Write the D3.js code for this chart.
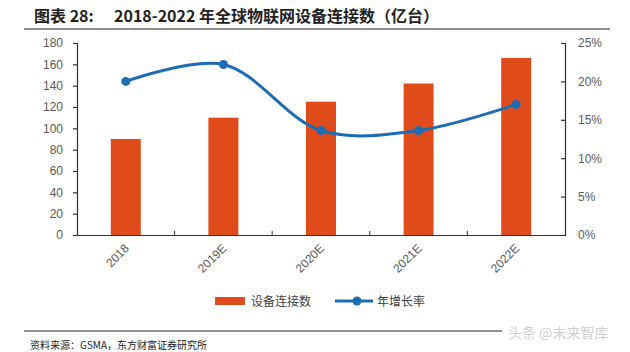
<!DOCTYPE html>
<meta charset="utf-8">
<head>
    <title>IoT connections</title>
</head>
<script src="https://d3js.org/d3.v7.min.js"></script>
<style>
    body { margin: 0; background: #fff; }
    text { font-family: "Noto Sans CJK SC", "DejaVu Sans", sans-serif; }
    .tick text { fill: #595959; font-size: 12px; font-family: "Liberation Sans", "DejaVu Sans", sans-serif; }
</style>
<div id="viz"></div>
<script>
// data
var years = ['2018', '2019E', '2020E', '2021E', '2022E'];
var connections = [90, 110, 125, 142, 166];      // 亿台
var growth = [0.200, 0.222, 0.136, 0.136, 0.170];  // 年增长率
var leftTicks = [0, 20, 40, 60, 80, 100, 120, 140, 160, 180];
var rightTicks = [0, 0.05, 0.10, 0.15, 0.20, 0.25];

var W = 630, H = 352;
var margin = {top: 43, right: 65, bottom: 117, left: 77};
var width = W - margin.left - margin.right;
var height = H - margin.top - margin.bottom;

var root = d3.select('#viz').append('svg')
    .attr('width', W)
    .attr('height', H);

// title (two pieces, the source has a wide gap after the colon)
var title = root.append('g')
    .style('font-size', '16px')
    .style('font-weight', 'bold')
    .attr('fill', '#222');
title.append('text').attr('x', 34).attr('y', 22).text('图表 28:');
title.append('text').attr('x', 114).attr('y', 22).text('2018-2022 年全球物联网设备连接数（亿台）');
root.append('line')
    .attr('x1', 24).attr('x2', 610)
    .attr('y1', 29).attr('y2', 29)
    .attr('stroke', '#222').attr('stroke-width', 1.2);

var svg = root.append('g')
    .attr('transform', 'translate(' + margin.left + ',' + margin.top + ')');

var x = d3.scaleBand().domain(years).range([0, width]);
var y = d3.scaleLinear().domain([0, 180]).range([height, 0]);
var y2 = d3.scaleLinear().domain([0, 0.25]).range([height, 0]);

// bars
svg.selectAll('.bar')
    .data(connections)
    .enter().append('rect')
    .attr('class', 'bar')
    .attr('x', function(d, i) { return x(years[i]) + x.bandwidth() / 2 - 15; })
    .attr('width', 30)
    .attr('y', function(d) { return y(d); })
    .attr('height', function(d) { return height - y(d); })
    .attr('fill', '#E04B1C');

// axes
var ax = svg.append('g')
    .call(d3.axisLeft(y).tickValues(leftTicks).tickSize(4).tickPadding(10));
ax.selectAll('line, path').attr('stroke', '#333').attr('stroke-width', 1.2);

var ar = svg.append('g')
    .attr('transform', 'translate(' + width + ',0)')
    .call(d3.axisRight(y2).tickValues(rightTicks).tickSize(-4).tickPadding(13)
        .tickFormat(d3.format('.0%')));
ar.selectAll('line, path').attr('stroke', '#333').attr('stroke-width', 1.2);

var ab = svg.append('g')
    .attr('transform', 'translate(0,' + height + ')')
    .call(d3.axisBottom(x).tickSize(0).tickFormat(''));
ab.select('.domain').attr('stroke', '#333').attr('stroke-width', 1.2);
// category separators
ab.selectAll('.sep')
    .data(years.slice(1))
    .enter().append('line')
    .attr('x1', function(d) { return x(d); })
    .attr('x2', function(d) { return x(d); })
    .attr('y1', 0).attr('y2', -4)
    .attr('stroke', '#333');

svg.append('g').selectAll('text')
    .data(years)
    .enter().append('text')
    .attr('transform', function(d) {
        return 'translate(' + (x(d) + x.bandwidth() / 2 + 4) + ',' + (height + 14) + ') rotate(-45)';
    })
    .attr('text-anchor', 'end')
    .attr('fill', '#595959')
    .style('font-size', '12px')
    .style('font-family', '"Liberation Sans", "DejaVu Sans", sans-serif')
    .text(function(d) { return d; });

// growth line
var line = d3.line()
    .x(function(d, i) { return x(years[i]) + x.bandwidth() / 2; })
    .y(function(d) { return y2(d); })
    .curve(d3.curveCatmullRom.alpha(0.5));
svg.append('path')
    .datum(growth)
    .attr('fill', 'none')
    .attr('stroke', '#1E6DB4')
    .attr('stroke-width', 3)
    .attr('d', line);
svg.selectAll('.dot')
    .data(growth)
    .enter().append('circle')
    .attr('class', 'dot')
    .attr('cx', function(d, i) { return x(years[i]) + x.bandwidth() / 2; })
    .attr('cy', function(d) { return y2(d); })
    .attr('r', 4.5)
    .attr('fill', '#1E6DB4');

// legend
var lg = root.append('g').attr('transform', 'translate(215,301)');
lg.append('rect').attr('x', 0).attr('y', -4).attr('width', 30).attr('height', 8).attr('fill', '#E04B1C');
lg.append('text').attr('x', 36).attr('y', 5).style('font-size', '12px').attr('fill', '#404040').text('设备连接数');
lg.append('line').attr('x1', 120).attr('x2', 158).attr('y1', 0).attr('y2', 0)
    .attr('stroke', '#1E6DB4').attr('stroke-width', 3);
lg.append('circle').attr('cx', 142).attr('cy', 0).attr('r', 4.5).attr('fill', '#1E6DB4');
lg.append('text').attr('x', 162).attr('y', 5).style('font-size', '12px').attr('fill', '#404040').text('年增长率');

// footer
root.append('line')
    .attr('x1', 24).attr('x2', 502)
    .attr('y1', 331).attr('y2', 331)
    .attr('stroke', '#222').attr('stroke-width', 1);
root.append('text')
    .attr('x', 30).attr('y', 349)
    .style('font-size', '10px')
    .attr('fill', '#222')
    .text('资料来源：GSMA，东方财富证券研究所');
root.append('text')
    .attr('x', 508).attr('y', 338)
    .style('font-size', '14px')
    .attr('fill', '#cfcfcf')
    .text('头条 @未来智库');
</script>
